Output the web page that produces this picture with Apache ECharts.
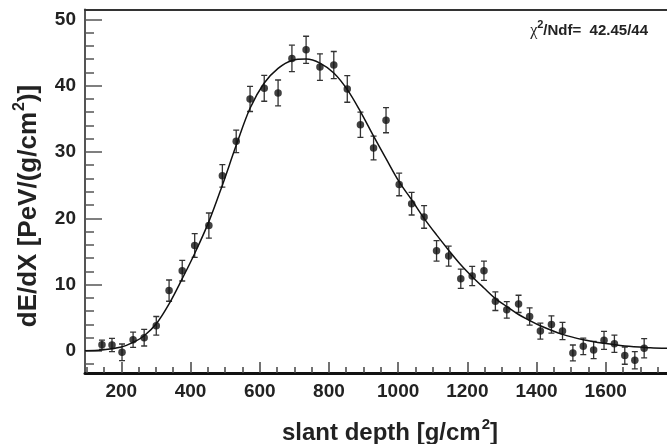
<!DOCTYPE html>
<html>
<head>
<meta charset="utf-8">
<script src="https://cdn.jsdelivr.net/npm/echarts@6/dist/echarts.min.js"></script>
<style>
html,body{margin:0;padding:0;background:#fff;}
#c{width:667px;height:444px;}
</style>
</head>
<body>
<div id="c"></div>
<script>
// slant depth [g/cm^2] of each measured point
var depth = [144,173,202,234,266,301,338,376,412,453,492,532,572,613,653,693,734,774,814,853,891,929,965,1003,1039,1075,1111,1146,1181,1214,1248,1281,1314,1348,1380,1411,1443,1475,1505,1535,1565,1595,1625,1655,1684,1711];
// dE/dX values
var dedx = [0.95,0.9,-0.2,1.7,2.0,3.8,9.1,12.1,15.9,18.9,26.4,31.6,38.0,39.6,38.9,44.1,45.4,42.8,43.1,39.5,34.1,30.6,34.8,25.1,22.2,20.2,15.1,14.3,10.9,11.3,12.1,7.5,6.2,7.1,5.2,3.0,4.0,3.0,-0.3,0.7,0.15,1.6,1.1,-0.7,-1.4,0.4];
// symmetric errors
var err = [0.7,1.0,1.25,1.15,1.25,1.4,1.6,1.55,1.8,1.9,1.7,1.7,1.9,1.95,1.95,2.0,2.05,2.0,2.05,2.0,1.9,1.8,1.9,1.7,1.7,1.7,1.55,1.5,1.45,1.45,1.45,1.4,1.25,1.3,1.3,1.2,1.3,1.3,1.2,1.25,1.3,1.35,1.3,1.3,1.3,1.45];
// fit curve
var fitX = [95,144,200,234,266,301,338,376,412,453,492,532,572,613,653,693,734,774,814,853,891,929,965,1003,1039,1075,1111,1146,1181,1214,1248,1281,1314,1348,1380,1411,1475,1535,1595,1655,1729,1777];
var fitY = [0.05,0.15,0.6,1.3,2.3,4.1,7.1,10.9,14.7,19.5,25.0,31.0,36.6,40.4,42.6,43.8,44.0,43.4,41.9,39.4,36.1,32.4,29.0,25.5,22.8,20.0,17.5,15.2,13.0,11.2,9.5,7.9,6.7,5.5,4.6,3.8,2.5,1.7,1.15,0.75,0.5,0.4];
// tick values
var xMajor = [200,400,600,800,1000,1200,1400,1600];
var xMinor = [100,150,250,300,350,450,500,550,650,700,750,850,900,950,1050,1100,1150,1250,1300,1350,1450,1500,1550,1650,1700,1750];
var yMajor = [0,10,20,30,40,50];
var yMinor = [-2,2,4,6,8,12,14,16,18,22,24,26,28,32,34,36,38,42,44,46,48];

var FONT = '"Liberation Sans", Arial, Helvetica, sans-serif';
var XMIN = 95, XMAX = 1777, YMIN = -3.32, YMAX = 51.48;

var pts = depth.map(function(d,i){return [d, dedx[i]];});
var bars = depth.map(function(d,i){return [d, dedx[i]-err[i], dedx[i]+err[i]];});
var fit = fitX.map(function(d,i){return [d, fitY[i]];});

var chart = echarts.init(document.getElementById('c'), null, {renderer:'canvas'});
var tickLabel = {fontFamily:FONT, fontWeight:'bold', fontSize:19, color:'#222', formatter:function(v){return String(v);}};

chart.setOption({
  animation:false,
  backgroundColor:'#fff',
  grid:{left:85, top:9.5, right:-15, bottom:71, show:false},
  xAxis:[
    {type:'value', min:XMIN, max:XMAX, position:'bottom',
     axisLine:{show:true, onZero:false, lineStyle:{color:'#111', width:3}},
     axisTick:{show:true, inside:true, length:11, customValues:xMajor, lineStyle:{color:'#444', width:1.5}},
     axisLabel:Object.assign({show:true, margin:9, customValues:xMajor}, tickLabel),
     splitLine:{show:false}},
    {type:'value', min:XMIN, max:XMAX, position:'bottom',
     axisLine:{show:false, onZero:false},
     axisTick:{show:true, inside:true, length:6, customValues:xMinor, lineStyle:{color:'#444', width:1.5}},
     axisLabel:{show:false}, splitLine:{show:false}},
    {type:'value', min:XMIN, max:XMAX, position:'top',
     axisLine:{show:true, onZero:false, lineStyle:{color:'#333', width:2}},
     axisTick:{show:false}, axisLabel:{show:false}, splitLine:{show:false}}
  ],
  yAxis:[
    {type:'value', min:YMIN, max:YMAX, position:'left',
     axisLine:{show:true, onZero:false, lineStyle:{color:'#555', width:2}},
     axisTick:{show:true, inside:true, length:17, customValues:yMajor, lineStyle:{color:'#555', width:1.5}},
     axisLabel:Object.assign({show:true, margin:9, customValues:yMajor}, tickLabel),
     splitLine:{show:false}},
    {type:'value', min:YMIN, max:YMAX, position:'left',
     axisLine:{show:false, onZero:false},
     axisTick:{show:true, inside:true, length:9, customValues:yMinor, lineStyle:{color:'#555', width:1.5}},
     axisLabel:{show:false}, splitLine:{show:false}}
  ],
  series:[
    {type:'custom', xAxisIndex:0, yAxisIndex:0, data:bars, clip:true,
     renderItem:function(params, api){
       var x = api.value(0);
       var lo = api.coord([x, api.value(1)]);
       var hi = api.coord([x, api.value(2)]);
       var hw = 3;
       var st = {stroke:'#333', lineWidth:1.3};
       return {type:'group', children:[
         {type:'line', shape:{x1:lo[0], y1:lo[1], x2:hi[0], y2:hi[1]}, style:st},
         {type:'line', shape:{x1:lo[0]-hw, y1:lo[1], x2:lo[0]+hw, y2:lo[1]}, style:st},
         {type:'line', shape:{x1:hi[0]-hw, y1:hi[1], x2:hi[0]+hw, y2:hi[1]}, style:st}
       ]};
     }},
    {type:'line', xAxisIndex:0, yAxisIndex:0, data:fit, smooth:0.35, showSymbol:false, symbol:'none',
     lineStyle:{color:'#111', width:1.5}, clip:true, z:3},
    {type:'scatter', xAxisIndex:0, yAxisIndex:0, data:pts, symbol:'circle', symbolSize:7.5,
     itemStyle:{color:'#111'}, z:4}
  ],
  graphic:[
    {type:'text', x:390, y:431,
     style:{text:'{m|slant depth [g/cm}{s|2}{m|]}', align:'center', verticalAlign:'middle',
       rich:{m:{fontFamily:FONT, fontWeight:'bold', fontSize:24, fill:'#222', lineHeight:28, verticalAlign:'bottom'},
             s:{fontFamily:FONT, fontWeight:'bold', fontSize:15, fill:'#222', lineHeight:28, verticalAlign:'top', padding:[0,0,0,1]}}}},
    {type:'text', x:27, y:206, rotation:Math.PI/2,
     style:{text:'{m|dE/dX [PeV/(g/cm}{s|2}{m|)]}', align:'center', verticalAlign:'middle',
       rich:{m:{fontFamily:FONT, fontWeight:'bold', fontSize:26, fill:'#222', lineHeight:30, verticalAlign:'bottom'},
             s:{fontFamily:FONT, fontWeight:'bold', fontSize:16, fill:'#222', lineHeight:30, verticalAlign:'top', padding:[0,0,0,1]}}}},
    {type:'text', x:648, y:29,
     style:{text:'{c|χ}{s|2}{m|/Ndf=  42.45/44}', align:'right', verticalAlign:'middle',
       rich:{c:{fontFamily:'"Liberation Serif", serif', fontSize:16, fill:'#222', lineHeight:19, verticalAlign:'bottom'},
             s:{fontFamily:FONT, fontWeight:'bold', fontSize:11, fill:'#222', lineHeight:19, verticalAlign:'top'},
             m:{fontFamily:FONT, fontWeight:'bold', fontSize:15, fill:'#222', lineHeight:19, verticalAlign:'bottom'}}}}
  ]
});
</script>
</body>
</html>
